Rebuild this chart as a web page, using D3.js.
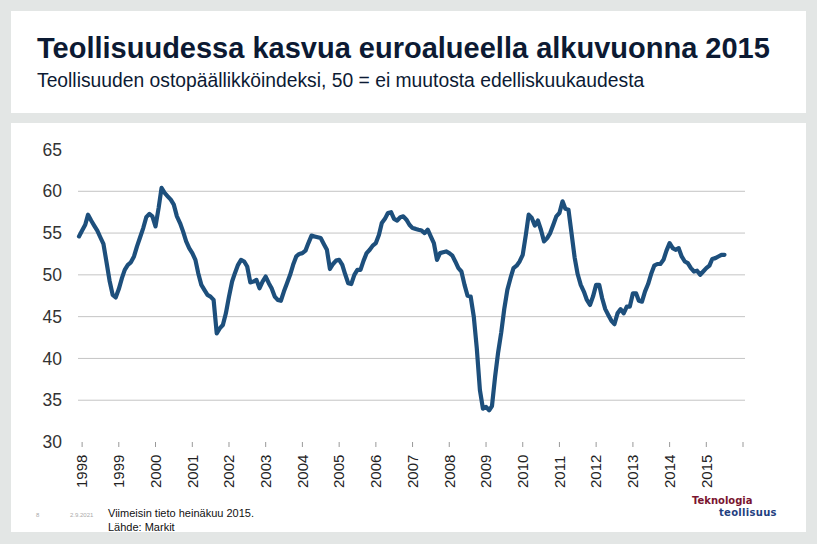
<!DOCTYPE html>
<html>
<head>
<meta charset="utf-8">
<script src="https://cdn.jsdelivr.net/npm/d3@7"></script>
<style>
  html, body { margin: 0; padding: 0; background: #e3e6e5; }
  svg { display: block; font-family: "Liberation Sans", Arial, sans-serif; }
</style>
</head>
<body>
<div id="chart"></div>
<script>
// ostopäällikköindeksi, kuukausittain joulukuu 1997 - heinäkuu 2015
const firstMonth = new Date(1997, 11, 1);
const pmiValues = [
  54.6, 55.3, 56.0, 57.2, 56.5, 55.9, 55.3, 54.5, 53.7, 51.5, 49.3, 47.6,
  47.3, 48.3, 49.6, 50.6, 51.2, 51.5, 52.2, 53.4, 54.5, 55.6, 56.9, 57.3,
  57.0, 55.8, 58.0, 60.4, 59.8, 59.4, 59.0, 58.4, 57.0, 56.2, 55.2, 54.0,
  53.2, 52.6, 51.8, 50.2, 48.8, 48.2, 47.6, 47.4, 47.0, 43.0, 43.6, 44.0,
  45.4, 47.4, 49.2, 50.2, 51.2, 51.8, 51.6, 51.0, 49.1, 49.2, 49.4, 48.4,
  49.2, 49.8, 49.0, 48.4, 47.4, 47.0, 46.9, 48.0, 49.0, 50.0, 51.2, 52.2,
  52.5, 52.6, 52.9, 53.8, 54.7, 54.6, 54.5, 54.4, 53.7, 53.0, 50.7, 51.3,
  51.7, 51.8, 51.2, 50.1, 49.0, 48.9, 50.0, 50.6, 50.6, 51.7, 52.6, 53.0,
  53.5, 53.8, 54.8, 56.2, 56.7, 57.4, 57.5, 56.7, 56.5, 56.9, 57.0, 56.6,
  56.0, 55.6, 55.5, 55.4, 55.3, 55.0, 55.4, 54.6, 53.8, 51.8, 52.6, 52.7,
  52.8, 52.6, 52.3, 51.6, 50.8, 50.4, 48.8, 47.5, 47.4, 45.0, 41.2, 36.2,
  34.0, 34.2, 33.8, 34.3, 37.8, 40.7, 43.1, 45.9, 48.2, 49.6, 50.8, 51.1,
  51.6, 52.4, 54.8, 57.2, 56.8, 55.9, 56.5, 55.4, 54.0, 54.4, 55.0, 56.0,
  57.0, 57.4, 58.8, 57.9, 57.8, 55.0, 52.1, 50.1, 48.8, 48.0, 47.0, 46.4,
  47.4, 48.8, 48.8, 47.2, 45.9, 45.2, 44.5, 44.1, 45.4, 45.9, 45.4, 46.2,
  46.2, 47.8, 47.8, 46.9, 46.8, 48.0, 48.9, 50.1, 51.1, 51.3, 51.3, 51.8,
  52.9, 53.8, 53.2, 53.0, 53.2, 52.2, 51.6, 51.4, 50.8, 50.4, 50.5, 50.0,
  50.4, 50.8, 51.1, 51.9, 52.0, 52.2, 52.4, 52.4
];
const yearLabels = [1998, 1999, 2000, 2001, 2002, 2003, 2004, 2005, 2006,
  2007, 2008, 2009, 2010, 2011, 2012, 2013, 2014, 2015];
const yTicks = [30, 35, 40, 45, 50, 55, 60, 65];
const gridValues = [35, 40, 45, 50, 55, 60];

const data = pmiValues.map((v, i) => ({ date: d3.timeMonth.offset(firstMonth, i), value: v }));

const width = 817, height = 544;
const svg = d3.select('#chart').append('svg')
  .attr('width', width)
  .attr('height', height);

// taustalaatikot
svg.append('rect').attr('x', 11).attr('y', 11).attr('width', 795).attr('height', 102).attr('fill', '#fff');
svg.append('rect').attr('x', 11).attr('y', 123).attr('width', 795).attr('height', 409).attr('fill', '#fff');

svg.append('text')
  .attr('x', 37).attr('y', 58)
  .attr('font-size', '29px').attr('font-weight', 'bold')
  .attr('fill', '#0c1a33')
  .text('Teollisuudessa kasvua euroalueella alkuvuonna 2015');

svg.append('text')
  .attr('x', 37).attr('y', 87)
  .attr('font-size', '19.3px')
  .attr('fill', '#0c1a33')
  .text('Teollisuuden ostopäällikköindeksi, 50 = ei muutosta edelliskuukaudesta');

const x = d3.scaleTime()
  .domain([firstMonth, new Date(2016, 0, 1)])
  .range([79, 743]);
const y = d3.scaleLinear().domain([30, 65]).range([442, 149.5]);

// vaakaviivat
svg.append('g')
  .selectAll('line')
  .data(gridValues)
  .join('line')
  .attr('x1', 78).attr('x2', 745)
  .attr('y1', d => y(d)).attr('y2', d => y(d))
  .attr('stroke', '#c4c4c4').attr('stroke-width', 1);

// y-akselin tekstit
svg.append('g')
  .selectAll('text')
  .data(yTicks)
  .join('text')
  .attr('x', 62).attr('y', d => y(d))
  .attr('dy', '0.35em')
  .attr('text-anchor', 'end')
  .attr('font-size', '17.5px')
  .attr('fill', '#333')
  .text(d => d);

// x-akseli: vuodet ja pienet merkit
const tickDates = yearLabels.map(yr => new Date(yr, 0, 1)).concat([new Date(2016, 0, 1)]);
svg.append('g')
  .selectAll('line')
  .data(tickDates)
  .join('line')
  .attr('x1', d => x(d)).attr('x2', d => x(d))
  .attr('y1', 442).attr('y2', 447)
  .attr('stroke', '#999').attr('stroke-width', 1);

svg.append('g')
  .selectAll('text')
  .data(yearLabels)
  .join('text')
  .attr('transform', d => `translate(${x(new Date(d, 0, 1))},488) rotate(-90)`)
  .attr('dy', '0.35em')
  .attr('font-size', '15px')
  .attr('fill', '#222')
  .text(d => d);

// viiva
const line = d3.line()
  .x(d => x(d.date))
  .y(d => y(d.value));

svg.append('path')
  .datum(data)
  .attr('d', line)
  .attr('fill', 'none')
  .attr('stroke', '#1d4f7c')
  .attr('stroke-width', 4.2)
  .attr('stroke-linejoin', 'round')
  .attr('stroke-linecap', 'round');

// alaosan tekstit
svg.append('text').attr('x', 36).attr('y', 517).attr('font-size', '6px').attr('fill', '#aaa').text('8');
svg.append('text').attr('x', 70).attr('y', 517).attr('font-size', '6px').attr('fill', '#aaa').text('2.9.2021');
svg.append('text').attr('x', 108).attr('y', 517).attr('font-size', '11px').attr('fill', '#111').text('Viimeisin tieto heinäkuu 2015.');
svg.append('text').attr('x', 108).attr('y', 531).attr('font-size', '11px').attr('fill', '#111').text('Lähde: Markit');

// logo
svg.append('text').attr('x', 692).attr('y', 504)
  .style('font-family', '"DejaVu Sans", sans-serif')
  .attr('font-size', '10px').attr('font-weight', 'bold')
  .attr('fill', '#7a1530').text('Teknologia');
svg.append('text').attr('x', 719).attr('y', 515.5)
  .style('font-family', '"DejaVu Sans", sans-serif')
  .attr('font-size', '10px').attr('font-weight', 'bold')
  .attr('letter-spacing', '0.3px')
  .attr('fill', '#1f3f7f').text('teollisuus');
</script>
</body>
</html>
